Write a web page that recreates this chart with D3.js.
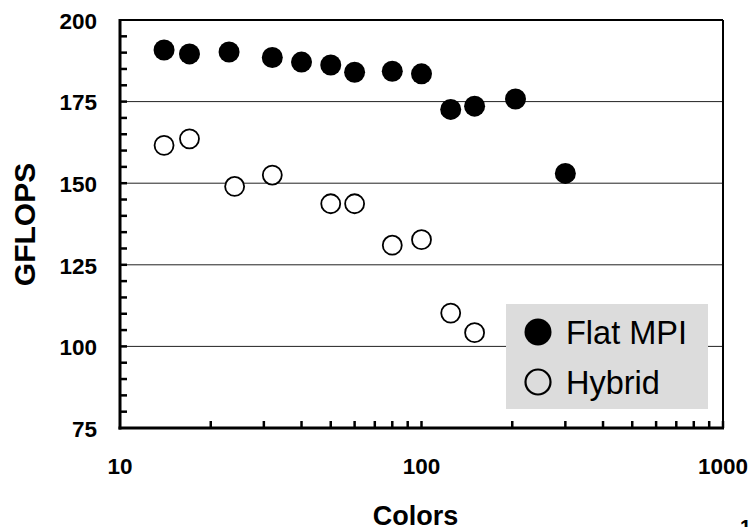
<!DOCTYPE html>
<html lang="en">
<head>
<meta charset="utf-8">
<title>GFLOPS vs Colors</title>
<script src="https://cdn.jsdelivr.net/npm/d3@7"></script>
<style>
  body { margin: 0; background: #fff; }
  svg text { font-family: "Liberation Sans", Arial, sans-serif; }
  .tick_label { font-size: 22.5px; font-weight: bold; fill: #000; }
  .axis_title { font-size: 27px; font-weight: bold; fill: #000; }
  .y_title { font-size: 30px; font-weight: bold; fill: #000; }
  .legend_text { font-size: 32.5px; fill: #000; }
</style>
</head>
<body>
<div id="chart"></div>
<script>
// data
var flatColors = [14, 17, 23, 32, 40, 50, 60, 80, 100, 125, 150, 205, 300];
var flatGflops = [190.8, 189.6, 190.2, 188.5, 187.1, 186.2, 184.0, 184.3, 183.5, 172.6, 173.6, 175.8, 153.0];
var hybridColors = [14, 17, 24, 32, 50, 60, 80, 100, 125, 150];
var hybridGflops = [161.6, 163.6, 149.0, 152.5, 143.7, 143.7, 131.0, 132.7, 110.2, 104.2];
var yTicks = [75, 100, 125, 150, 175, 200];
var xTicks = [10, 100, 1000];
var legendLabels = ["Flat MPI", "Hybrid"];

var W = 751, H = 527;
var margin = {top: 20, right: 28, bottom: 99, left: 120};
var width = W - margin.left - margin.right,
    height = H - margin.top - margin.bottom;

var svg = d3.select("#chart").append("svg")
  .attr("width", W).attr("height", H);
var g = svg.append("g")
  .attr("transform", "translate(" + margin.left + "," + margin.top + ")");

var x = d3.scaleLog().domain([10, 1000]).range([0, width]);
var y = d3.scaleLinear().domain([75, 200]).range([height, 0]);

// gridlines
g.selectAll(".grid").data(yTicks.filter(function(d) { return d > 75 && d < 200; }))
  .enter().append("line")
  .attr("x1", 0).attr("x2", width)
  .attr("y1", function(d) { return y(d); }).attr("y2", function(d) { return y(d); })
  .attr("stroke", "#222").attr("stroke-width", 1);

// minor ticks, pointing inward
var yMinor = d3.range(80, 200, 5);
g.selectAll(".ymin").data(yMinor).enter().append("line")
  .attr("x1", 0).attr("x2", 7)
  .attr("y1", function(d) { return y(d); }).attr("y2", function(d) { return y(d); })
  .attr("stroke", "#000").attr("stroke-width", 2.5);

var xMinor = [];
[10, 100].forEach(function(b) { for (var k = 2; k <= 10; k++) xMinor.push(b * k); });
g.selectAll(".xmin").data(xMinor).enter().append("line")
  .attr("x1", function(d) { return x(d); }).attr("x2", function(d) { return x(d); })
  .attr("y1", height).attr("y2", height - 7)
  .attr("stroke", "#000").attr("stroke-width", 2.5);

// frame
g.append("line").attr("x1", 0).attr("x2", width).attr("y1", 0).attr("y2", 0)
  .attr("stroke", "#000").attr("stroke-width", 2);
g.append("line").attr("x1", width).attr("x2", width).attr("y1", 0).attr("y2", height)
  .attr("stroke", "#000").attr("stroke-width", 2);
g.append("line").attr("x1", 0).attr("x2", 0).attr("y1", -1).attr("y2", height + 1.5)
  .attr("stroke", "#000").attr("stroke-width", 3);
g.append("line").attr("x1", -1.5).attr("x2", width + 1).attr("y1", height).attr("y2", height)
  .attr("stroke", "#000").attr("stroke-width", 3);

// tick labels
g.selectAll(".ylab").data(yTicks).enter().append("text")
  .attr("class", "tick_label")
  .attr("x", -23).attr("y", function(d) { return y(d) + 1; })
  .attr("dy", "0.35em").attr("text-anchor", "end")
  .text(function(d) { return d; });

g.selectAll(".xlab").data(xTicks).enter().append("text")
  .attr("class", "tick_label")
  .attr("x", function(d) { return x(d); }).attr("y", height + 46)
  .attr("text-anchor", "middle")
  .text(function(d) { return d; });

// axis titles
g.append("text").attr("class", "y_title")
  .attr("transform", "translate(" + (-96) + "," + (height / 2 + 0.5) + ") rotate(-90)")
  .attr("text-anchor", "middle").attr("dy", "0.36em")
  .text("GFLOPS");
g.append("text").attr("class", "axis_title")
  .attr("x", x(100) - 6).attr("y", height + 97)
  .attr("text-anchor", "middle")
  .text("Colors");

// points
var flat = flatColors.map(function(c, i) { return {c: c, v: flatGflops[i]}; });
var hybrid = hybridColors.map(function(c, i) { return {c: c, v: hybridGflops[i]}; });

g.selectAll(".flat").data(flat).enter().append("circle")
  .attr("cx", function(d) { return x(d.c); }).attr("cy", function(d) { return y(d.v); })
  .attr("r", 10.5).attr("fill", "#000");

g.selectAll(".hyb").data(hybrid).enter().append("circle")
  .attr("cx", function(d) { return x(d.c); }).attr("cy", function(d) { return y(d.v); })
  .attr("r", 9.5).attr("fill", "#fff").attr("stroke", "#000").attr("stroke-width", 1.8);

// legend
var legend = g.append("g").attr("transform", "translate(386,284)");
legend.append("rect").attr("width", 202).attr("height", 105).attr("fill", "#dcdcdc");
legend.selectAll("g").data(legendLabels).enter().append("g")
  .each(function(d, i) {
    var lg = d3.select(this);
    lg.append("circle")
      .attr("cx", 32).attr("cy", 28 + i * 50)
      .attr("r", i == 0 ? 13.5 : 12.5)
      .attr("fill", i == 0 ? "#000" : "none")
      .attr("stroke", "#000").attr("stroke-width", i == 0 ? 0 : 2.2);
    lg.append("text").attr("class", "legend_text")
      .attr("x", 60).attr("y", 28 + i * 50).attr("dy", "0.36em")
      .text(d);
  });

// page number fragment at the corner
svg.append("text").attr("x", 740).attr("y", 534)
  .attr("font-size", "20px").attr("font-weight", "bold").text("1");
</script>
</body>
</html>
